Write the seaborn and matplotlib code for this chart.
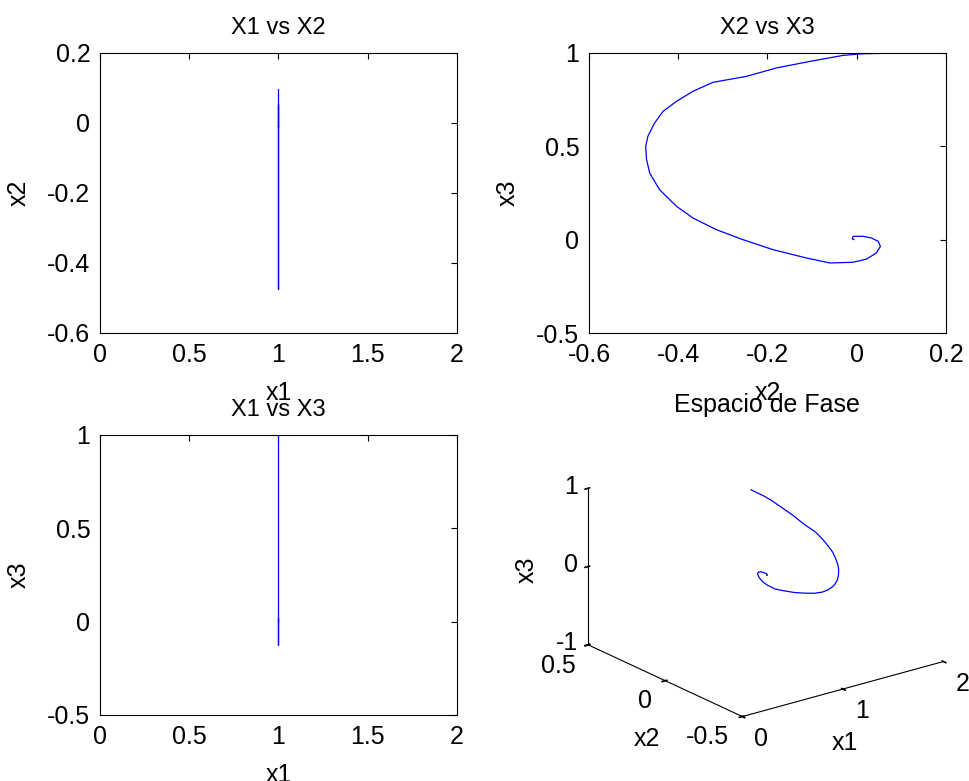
import numpy as np
import pandas as pd
import matplotlib
matplotlib.use("Agg")
import matplotlib.pyplot as plt
import matplotlib.transforms as mtransforms
import seaborn as sns

# Trajectory of the state variables (x1 stays constant at 1)
x2 = [0.097, 0.014, -0.030, -0.105, -0.180, -0.247, -0.322, -0.367, -0.404, -0.434,
      -0.453, -0.468, -0.473, -0.471, -0.464, -0.442, -0.404, -0.367, -0.315, -0.255,
      -0.187, -0.113, -0.060, -0.008, 0.022, 0.044, 0.053, 0.048, 0.033, 0.014,
      -0.008, -0.010, -0.006]
x3 = [1.000, 0.996, 0.9875, 0.955, 0.920, 0.875, 0.843, 0.795, 0.741, 0.6875,
      0.625, 0.554, 0.500, 0.429, 0.357, 0.268, 0.179, 0.116, 0.054, 0.000,
      -0.054, -0.098, -0.125, -0.121, -0.104, -0.071, -0.036, -0.009, 0.009, 0.018,
      0.018, 0.004, 0.000]
x1 = [1.0] * len(x2)

df = pd.DataFrame({"x1": x1, "x2": x2, "x3": x3})

sns.set_theme(style="white")
plt.rcParams["font.family"] = ["Liberation Sans", "DejaVu Sans"]
plt.rcParams["text.color"] = "black"
plt.rcParams["axes.labelcolor"] = "black"

BLUE = "#0000ff"
TICK_FS = 18
TITLE_FS = 17

fig = plt.figure(figsize=(9.7, 7.81), dpi=100)

W, H = 970, 781
def rect(l, t, r, b):
    return [l / W, 1 - b / H, (r - l) / W, (b - t) / H]

def style2d(ax):
    for s in ax.spines.values():
        s.set_color("black")
        s.set_linewidth(0.8)
    ax.tick_params(direction="in", length=4, width=0.8, top=True, right=True,
                   labelsize=TICK_FS, colors="black", pad=7)

def panel(ax, xcol, ycol, xlim, ylim, xt, yt, title):
    sns.lineplot(data=df, x=xcol, y=ycol, sort=False, estimator=None, color=BLUE,
                 linewidth=0.9, ax=ax)
    ax.set_xlim(*xlim); ax.set_ylim(*ylim)
    ax.set_xticks(xt); ax.set_xticklabels([f"{v:g}" for v in xt])
    ax.set_yticks(yt); ax.set_yticklabels([f"{v:g}" for v in yt])
    ax.set_title(title, fontsize=TITLE_FS, pad=14, color="black")
    ax.set_xlabel(xcol, fontsize=TICK_FS, labelpad=10)
    ax.set_ylabel(ycol, fontsize=TICK_FS, labelpad=12)
    style2d(ax)

ax1 = fig.add_axes(rect(100, 53, 457, 333))
panel(ax1, "x1", "x2", (0, 2), (-0.6, 0.2), [0, 0.5, 1, 1.5, 2],
      [-0.6, -0.4, -0.2, 0, 0.2], "X1 vs X2")

ax2 = fig.add_axes(rect(589, 53, 946, 333))
panel(ax2, "x2", "x3", (-0.6, 0.2), (-0.5, 1), [-0.6, -0.4, -0.2, 0, 0.2],
      [-0.5, 0, 0.5, 1], "X2 vs X3")

ax3 = fig.add_axes(rect(100, 435, 457, 715))
panel(ax3, "x1", "x3", (0, 2), (-0.5, 1), [0, 0.5, 1, 1.5, 2],
      [-0.5, 0, 0.5, 1], "X1 vs X3")

# Phase space (3D), stretched horizontally to fill its panel
ax4 = fig.add_axes(rect(547, 427, 973, 731), projection="3d")
ax4.apply_aspect = lambda position=None: None
ax4.set_box_aspect((1, 1, 1))
ax4.plot(df["x1"], df["x2"], df["x3"], color=BLUE, linewidth=0.9)
ax4.set_xlim(0, 2); ax4.set_ylim(-0.5, 0.5); ax4.set_zlim(-1, 1)
ax4.set_xticks([0, 1, 2]); ax4.set_yticks([-0.5, 0, 0.5]); ax4.set_zticks([-1, 0, 1])
ax4.set_xticklabels(["0", "1", "2"]); ax4.set_yticklabels(["-0.5", "0", "0.5"])
ax4.set_zticklabels(["-1", "0", "1"])
ax4.set_proj_type("ortho")
ax4.view_init(elev=30, azim=-127.5)
ax4.grid(False)
for axis in (ax4.xaxis, ax4.yaxis, ax4.zaxis):
    axis.pane.set_visible(False)
    axis.line.set_color("black")
    axis.line.set_linewidth(0.8)
ax4.tick_params(labelsize=TICK_FS, colors="black")

# Shift 3D tick labels by a pixel offset (the 3D axis resets label
# transforms whenever it fetches its ticks, so hook into that call)
def nudge(axis, dx, dy, ha="center"):
    off = mtransforms.ScaledTranslation(dx / 100, dy / 100, fig.dpi_scale_trans)
    orig = axis.get_major_ticks
    def patched(numticks=None):
        ticks = orig(numticks)
        for t in ticks:
            t.label1.set_transform(axis.axes.transData + off)
            t.label1.set_horizontalalignment(ha)
        return ticks
    axis.get_major_ticks = patched

nudge(ax4.xaxis, 6, 9)
nudge(ax4.yaxis, 4, 9, ha="right")
nudge(ax4.zaxis, 20, 12, ha="right")

ax4.set_xlabel(""); ax4.set_ylabel(""); ax4.set_zlabel("")
fig.text(845 / W, 1 - 743 / H, "x1", fontsize=TICK_FS, ha="center", va="center")
fig.text(647 / W, 1 - 739 / H, "x2", fontsize=TICK_FS, ha="center", va="center")
fig.text(527 / W, 1 - 570 / H, "x3", fontsize=TICK_FS, ha="center", va="center",
         rotation=90)
fig.text(767 / W, 1 - 405 / H, "Espacio de Fase", fontsize=18,
         ha="center", va="center")

fig.savefig("out.png", dpi=100)
